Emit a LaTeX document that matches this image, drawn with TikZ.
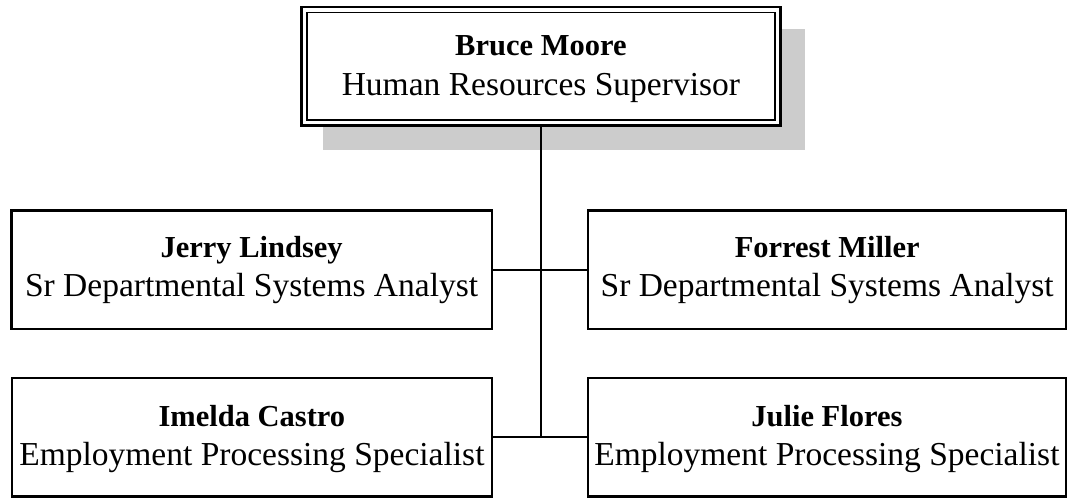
\documentclass[tikz,border=0pt]{standalone}
\usepackage{fontspec}
\setmainfont{Liberation Serif}
\definecolor{shadowgray}{RGB}{204,204,204}
\tikzset{
  box/.style={draw, line width=2.2pt, rectangle, inner sep=0pt, outer sep=0pt},
  topbox/.style={box, line width=2.5pt, fill=white},
  conn/.style={line width=2pt},
  nametext/.style={anchor=base, inner sep=0pt, font=\fontsize{30.5}{36}\selectfont\bfseries},
  titletext/.style={anchor=base, inner sep=0pt, font=\fontsize{33.5}{40}\selectfont}
}
\begin{document}
\begin{tikzpicture}[x=1pt,y=-1pt]
\useasboundingbox (0,0) rectangle (1068,499);
% shadow of the top box
\fill[shadowgray] (322.7,28.5) rectangle (805,150);
% boxes
\node[topbox, minimum width=479.2pt, minimum height=118.3pt] (top) at (540.9,66.2) {};
\draw[line width=1.8pt] ([shift={(5.4,5.4)}]top.north west) rectangle ([shift={(-5.4,-5.4)}]top.south east);
\node[box, minimum width=480.2pt, minimum height=118.8pt] (ul) at (251.6,269.9) {};
\node[box, minimum width=477.7pt, minimum height=118.8pt] (ur) at (827.2,269.9) {};
\node[box, minimum width=479.7pt, minimum height=118.1pt] (ll) at (251.9,437.4) {};
\node[box, minimum width=478.3pt, minimum height=118.1pt] (lr) at (826.9,437.4) {};
% connectors
\coordinate (j2) at (top.south |- ll.east);
\draw[conn] (top.south) -- (j2);
\draw[conn] (ul.east) -- (ur.west);
\draw[conn] (ll.east) -- (lr.west);
% texts
\node[nametext] (topn) at ([yshift=10.5pt]top.center) {Bruce Moore};
\node[titletext] (topt) at ([yshift=-29pt]top.center) {Human Resources Supervisor};
\node[nametext] (uln) at ([yshift=12pt]ul.center) {Jerry Lindsey};
\node[titletext] (ult) at ([yshift=-27pt]ul.center) {Sr Departmental Systems Analyst};
\node[nametext] (urn) at ([yshift=12pt]ur.center) {Forrest Miller};
\node[titletext] (urt) at ([yshift=-27pt]ur.center) {Sr Departmental Systems Analyst};
\node[nametext] (lln) at ([yshift=10.5pt]ll.center) {Imelda Castro};
\node[titletext] (llt) at ([yshift=-28.5pt]ll.center) {Employment Processing Specialist};
\node[nametext] (lrn) at ([yshift=10.5pt]lr.center) {Julie Flores};
\node[titletext] (lrt) at ([yshift=-28.5pt]lr.center) {Employment Processing Specialist};
\end{tikzpicture}
\end{document}
